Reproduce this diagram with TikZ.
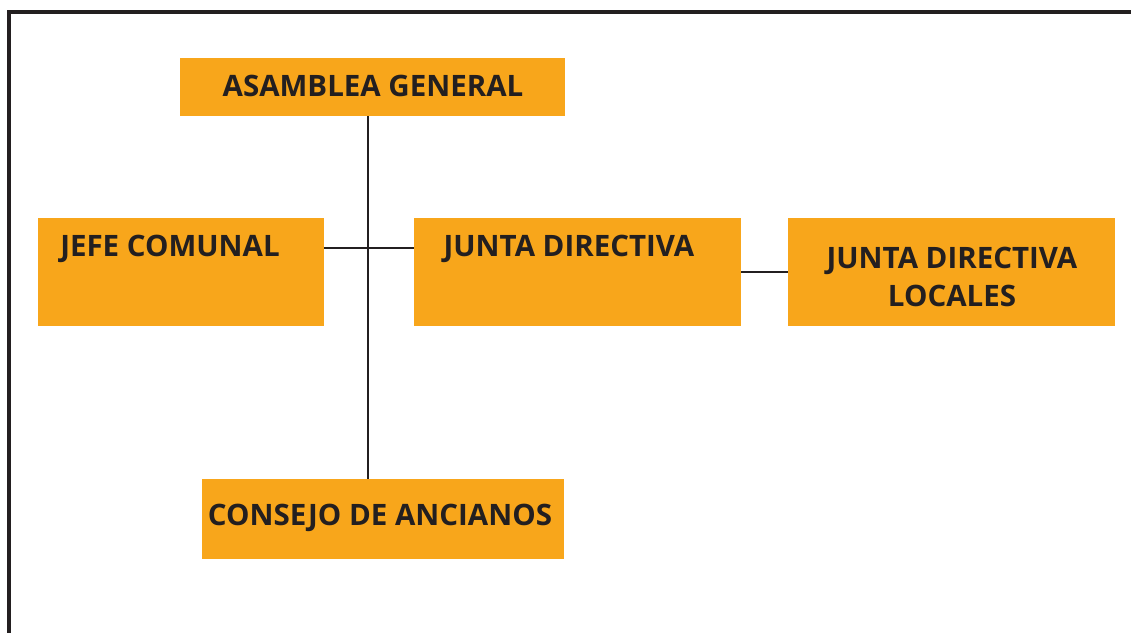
\documentclass[tikz,border=0pt]{standalone}
\usepackage{fontspec}
\setmainfont{Open Sans}
\definecolor{orgorange}{HTML}{F8A61B}
\definecolor{orgink}{HTML}{231F20}

\begin{document}
\begin{tikzpicture}[x=1pt,y=-1pt]
\tikzstyle{every node}=[font=\fontsize{29.5}{38}\selectfont\bfseries, text=orgink]
\tikzstyle{orgbox}=[rectangle, fill=orgorange, inner sep=0pt]
\tikzstyle{orgline}=[draw=orgink, line width=2.8pt]
\useasboundingbox (0,0) rectangle (1131,632);
% marco
\draw [orgink, line width=3.2pt] (9,633) -- (9,12) -- (1132,12);

\node [orgbox, minimum width=385, minimum height=58] (asamblea) at (372.5,87) {};
\node [orgbox, minimum width=286, minimum height=108] (jefe) at (181,272) {};
\node [orgbox, minimum width=327, minimum height=108] (directiva) at (577.5,272) {};
\node [orgbox, minimum width=327, minimum height=108] (locales) at (951.5,272) {};
\node [orgbox, minimum width=362, minimum height=80] (consejo) at (383,519) {};

\node (asamblea text) at (373,86) {ASAMBLEA GENERAL};
\node (jefe text) at (170,249) {JEFE COMUNAL};
\node (directiva text) at (569,249) {JUNTA DIRECTIVA};
\node [align=center] (locales text) at (952,277) {JUNTA DIRECTIVA\\LOCALES};
\node (consejo text) at (380,518) {CONSEJO DE ANCIANOS};

\coordinate (cruce) at (368,248);
\draw [orgline] (asamblea.south -| cruce) -- (consejo.north -| cruce);
\draw [orgline] (jefe.east |- cruce) -- (directiva.west |- cruce);
\draw [orgline] (directiva.east) -- (locales.west);
\end{tikzpicture}
\end{document}
